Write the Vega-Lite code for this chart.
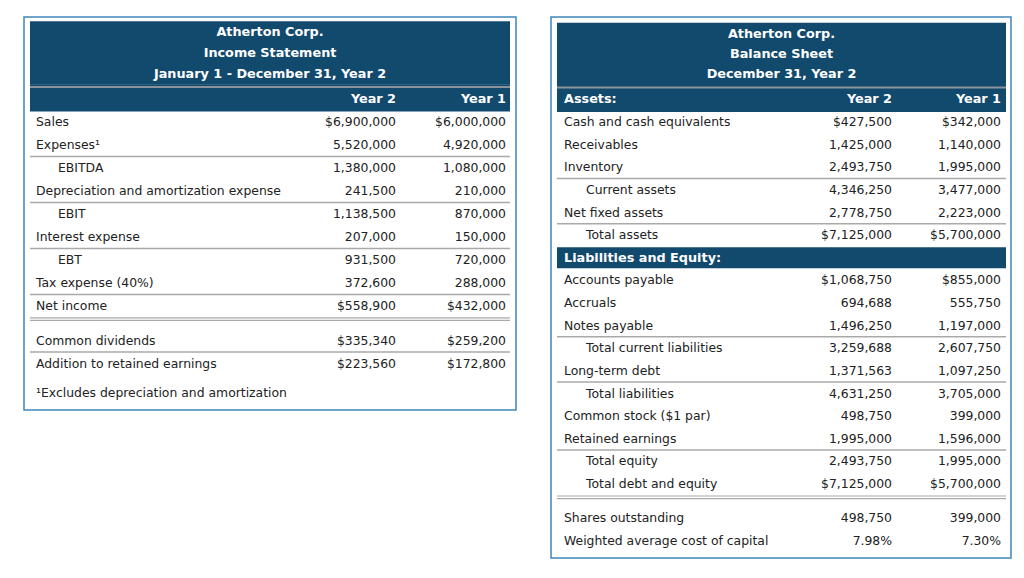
{
  "$schema": "https://vega.github.io/schema/vega-lite/v6.json",
  "padding": {"left": 15, "top": 16, "right": 0, "bottom": 0},
  "autosize": {"type": "pad"},
  "background": "white",
  "spacing": 35,
  "bounds": "flush",
  "config": {
    "view": {"stroke": "#3f86bb", "strokeWidth": 1.5},
    "text": {"font": "DejaVu Sans", "fontSize": 12.4, "baseline": "middle"},
    "rule": {"strokeCap": "butt"}
  },
  "datasets": {
    "is_title": [
      {"line": -3.9, "text": "Atherton Corp."},
      {"line": -3, "text": "Income Statement"},
      {"line": -2.1, "text": "January 1 - December 31, Year 2"}
    ],
    "is_rows": [
      {"line": -1, "role": "colhead", "label": "", "Year 2": "Year 2", "Year 1": "Year 1"},
      {"line": 0, "role": "item", "label": "Sales", "Year 2": "$6,900,000", "Year 1": "$6,000,000"},
      {"line": 1, "role": "item", "label": "Expenses¹", "Year 2": "5,520,000", "Year 1": "4,920,000"},
      {"line": 2, "role": "subtotal", "label": "EBITDA", "Year 2": "1,380,000", "Year 1": "1,080,000"},
      {"line": 3, "role": "item", "label": "Depreciation and amortization expense", "Year 2": "241,500", "Year 1": "210,000"},
      {"line": 4, "role": "subtotal", "label": "EBIT", "Year 2": "1,138,500", "Year 1": "870,000"},
      {"line": 5, "role": "item", "label": "Interest expense", "Year 2": "207,000", "Year 1": "150,000"},
      {"line": 6, "role": "subtotal", "label": "EBT", "Year 2": "931,500", "Year 1": "720,000"},
      {"line": 7, "role": "item", "label": "Tax expense (40%)", "Year 2": "372,600", "Year 1": "288,000"},
      {"line": 8, "role": "total", "label": "Net income", "Year 2": "$558,900", "Year 1": "$432,000"},
      {"line": 9.5, "role": "item", "label": "Common dividends", "Year 2": "$335,340", "Year 1": "$259,200"},
      {"line": 10.5, "role": "total", "label": "Addition to retained earnings", "Year 2": "$223,560", "Year 1": "$172,800"},
      {"line": 11.8, "role": "note", "label": "¹Excludes depreciation and amortization", "Year 2": "", "Year 1": ""}
    ],
    "bs_title": [
      {"line": -3.9, "text": "Atherton Corp."},
      {"line": -3, "text": "Balance Sheet"},
      {"line": -2.1, "text": "December 31, Year 2"}
    ],
    "bs_rows": [
      {"line": -1, "role": "colhead", "label": "Assets:", "Year 2": "Year 2", "Year 1": "Year 1"},
      {"line": 0, "role": "item", "label": "Cash and cash equivalents", "Year 2": "$427,500", "Year 1": "$342,000"},
      {"line": 1, "role": "item", "label": "Receivables", "Year 2": "1,425,000", "Year 1": "1,140,000"},
      {"line": 2, "role": "item", "label": "Inventory", "Year 2": "2,493,750", "Year 1": "1,995,000"},
      {"line": 3, "role": "subtotal", "label": "Current assets", "Year 2": "4,346,250", "Year 1": "3,477,000"},
      {"line": 4, "role": "item", "label": "Net fixed assets", "Year 2": "2,778,750", "Year 1": "2,223,000"},
      {"line": 5, "role": "subtotal", "label": "Total assets", "Year 2": "$7,125,000", "Year 1": "$5,700,000"},
      {"line": 6, "role": "section", "label": "Liabilities and Equity:", "Year 2": "", "Year 1": ""},
      {"line": 7, "role": "item", "label": "Accounts payable", "Year 2": "$1,068,750", "Year 1": "$855,000"},
      {"line": 8, "role": "item", "label": "Accruals", "Year 2": "694,688", "Year 1": "555,750"},
      {"line": 9, "role": "item", "label": "Notes payable", "Year 2": "1,496,250", "Year 1": "1,197,000"},
      {"line": 10, "role": "subtotal", "label": "Total current liabilities", "Year 2": "3,259,688", "Year 1": "2,607,750"},
      {"line": 11, "role": "item", "label": "Long-term debt", "Year 2": "1,371,563", "Year 1": "1,097,250"},
      {"line": 12, "role": "subtotal", "label": "Total liabilities", "Year 2": "4,631,250", "Year 1": "3,705,000"},
      {"line": 13, "role": "item", "label": "Common stock ($1 par)", "Year 2": "498,750", "Year 1": "399,000"},
      {"line": 14, "role": "item", "label": "Retained earnings", "Year 2": "1,995,000", "Year 1": "1,596,000"},
      {"line": 15, "role": "subtotal", "label": "Total equity", "Year 2": "2,493,750", "Year 1": "1,995,000"},
      {"line": 16, "role": "subtotal", "label": "Total debt and equity", "Year 2": "$7,125,000", "Year 1": "$5,700,000"},
      {"line": 17.5, "role": "item", "label": "Shares outstanding", "Year 2": "498,750", "Year 1": "399,000"},
      {"line": 18.5, "role": "item", "label": "Weighted average cost of capital", "Year 2": "7.98%", "Year 1": "7.30%"}
    ]
  },
  "hconcat": [
    {
      "width": 492,
      "height": 393,
      "resolve": {"scale": {"x": "independent"}},
      "layer": [
        {
          "data": {"name": "is_title"},
          "mark": {"type": "rule", "color": "#124a6e", "strokeWidth": 22},
          "encoding": {
            "x": {"datum": 0, "type": "quantitative", "scale": {"domain": [0, 1], "range": [6, 486], "nice": false, "zero": false}, "axis": null},
            "x2": {"datum": 1},
            "y": {"field": "line", "type": "quantitative", "scale": {"domain": [0, 8], "range": [105, 289], "nice": false, "zero": false}, "axis": null}
          }
        },
        {
          "data": {"name": "is_rows"},
          "transform": [{"filter": "datum.role === 'colhead'"}],
          "mark": {"type": "rule", "color": "#124a6e", "strokeWidth": 27, "yOffset": -1},
          "encoding": {
            "x": {"datum": 0, "type": "quantitative", "scale": {"domain": [0, 1], "range": [6, 486], "nice": false, "zero": false}, "axis": null},
            "x2": {"datum": 1},
            "y": {"field": "line", "type": "quantitative", "scale": {"domain": [0, 8], "range": [105, 289], "nice": false, "zero": false}, "axis": null}
          }
        },
        {
          "data": {"name": "is_rows"},
          "transform": [{"filter": "datum.role === 'colhead'"}],
          "mark": {"type": "rule", "color": "#8b949c", "strokeWidth": 2, "yOffset": -12},
          "encoding": {
            "x": {"datum": 0, "type": "quantitative", "scale": {"domain": [0, 1], "range": [6, 486], "nice": false, "zero": false}, "axis": null},
            "x2": {"datum": 1},
            "y": {"field": "line", "type": "quantitative", "scale": {"domain": [0, 8], "range": [105, 289], "nice": false, "zero": false}, "axis": null}
          }
        },
        {
          "data": {"name": "is_rows"},
          "transform": [{"filter": {"field": "label", "oneOf": ["EBITDA", "EBIT", "EBT", "Net income", "Addition to retained earnings"]}}],
          "mark": {"type": "rule", "color": "#a9a9a9", "strokeWidth": 1.5, "yOffset": -11.5},
          "encoding": {
            "x": {"datum": 0, "type": "quantitative", "scale": {"domain": [0, 1], "range": [6, 486], "nice": false, "zero": false}, "axis": null},
            "x2": {"datum": 1},
            "y": {"field": "line", "type": "quantitative", "scale": {"domain": [0, 8], "range": [105, 289], "nice": false, "zero": false}, "axis": null}
          }
        },
        {
          "data": {"name": "is_rows"},
          "transform": [{"filter": {"field": "label", "oneOf": ["Net income"]}}],
          "mark": {"type": "rule", "color": "#a9a9a9", "strokeWidth": 1.2, "yOffset": 11.8},
          "encoding": {
            "x": {"datum": 0, "type": "quantitative", "scale": {"domain": [0, 1], "range": [6, 486], "nice": false, "zero": false}, "axis": null},
            "x2": {"datum": 1},
            "y": {"field": "line", "type": "quantitative", "scale": {"domain": [0, 8], "range": [105, 289], "nice": false, "zero": false}, "axis": null}
          }
        },
        {
          "data": {"name": "is_rows"},
          "transform": [{"filter": {"field": "label", "oneOf": ["Net income"]}}],
          "mark": {"type": "rule", "color": "#a9a9a9", "strokeWidth": 1.2, "yOffset": 14.4},
          "encoding": {
            "x": {"datum": 0, "type": "quantitative", "scale": {"domain": [0, 1], "range": [6, 486], "nice": false, "zero": false}, "axis": null},
            "x2": {"datum": 1},
            "y": {"field": "line", "type": "quantitative", "scale": {"domain": [0, 8], "range": [105, 289], "nice": false, "zero": false}, "axis": null}
          }
        },
        {
          "data": {"name": "is_title"},
          "mark": {"type": "text", "color": "white", "fontWeight": "bold", "align": "center", "fontSize": 12.8},
          "encoding": {
            "x": {"datum": 0.5, "type": "quantitative", "scale": {"domain": [0, 1], "range": [6, 486], "nice": false, "zero": false}, "axis": null},
            "y": {"field": "line", "type": "quantitative", "scale": {"domain": [0, 8], "range": [105, 289], "nice": false, "zero": false}, "axis": null},
            "text": {"field": "text"}
          }
        },
        {
          "data": {"name": "is_rows"},
          "transform": [{"filter": "datum.role === 'item' || datum.role === 'total' || datum.role === 'note'"}],
          "mark": {"type": "text", "color": "#222222", "align": "left", "dx": 6},
          "encoding": {
            "x": {"datum": 0, "type": "quantitative", "scale": {"domain": [0, 1], "range": [6, 486], "nice": false, "zero": false}, "axis": null},
            "y": {"field": "line", "type": "quantitative", "scale": {"domain": [0, 8], "range": [105, 289], "nice": false, "zero": false}, "axis": null},
            "text": {"field": "label"}
          }
        },
        {
          "data": {"name": "is_rows"},
          "transform": [{"filter": "datum.role === 'subtotal'"}],
          "mark": {"type": "text", "color": "#222222", "align": "left", "dx": 28},
          "encoding": {
            "x": {"datum": 0, "type": "quantitative", "scale": {"domain": [0, 1], "range": [6, 486], "nice": false, "zero": false}, "axis": null},
            "y": {"field": "line", "type": "quantitative", "scale": {"domain": [0, 8], "range": [105, 289], "nice": false, "zero": false}, "axis": null},
            "text": {"field": "label"}
          }
        },
        {
          "data": {"name": "is_rows"},
          "transform": [
            {"filter": "datum.role !== 'colhead' && datum.role !== 'note' && datum.role !== 'section'"},
            {"fold": ["Year 2", "Year 1"], "as": ["period", "val"]}
          ],
          "mark": {"type": "text", "color": "#222222", "align": "right"},
          "encoding": {
            "x": {"field": "period", "type": "nominal", "bandPosition": 1, "scale": {"type": "band", "domain": ["Year 2", "Year 1"], "range": [262, 482], "paddingInner": 0, "paddingOuter": 0}, "axis": null},
            "y": {"field": "line", "type": "quantitative", "scale": {"domain": [0, 8], "range": [105, 289], "nice": false, "zero": false}, "axis": null},
            "text": {"field": "val"}
          }
        },
        {
          "data": {"name": "is_rows"},
          "transform": [
            {"filter": "datum.role === 'colhead'"},
            {"fold": ["Year 2", "Year 1"], "as": ["period", "val"]}
          ],
          "mark": {"type": "text", "color": "white", "fontWeight": "bold", "align": "right", "fontSize": 12.8},
          "encoding": {
            "x": {"field": "period", "type": "nominal", "bandPosition": 1, "scale": {"type": "band", "domain": ["Year 2", "Year 1"], "range": [262, 482], "paddingInner": 0, "paddingOuter": 0}, "axis": null},
            "y": {"field": "line", "type": "quantitative", "scale": {"domain": [0, 8], "range": [105, 289], "nice": false, "zero": false}, "axis": null},
            "text": {"field": "val"}
          }
        }
      ]
    },
    {
      "width": 460,
      "height": 541,
      "resolve": {"scale": {"x": "independent"}},
      "layer": [
        {
          "data": {"name": "bs_title"},
          "mark": {"type": "rule", "color": "#124a6e", "strokeWidth": 22},
          "encoding": {
            "x": {"datum": 0, "type": "quantitative", "scale": {"domain": [0, 1], "range": [6, 455], "nice": false, "zero": false}, "axis": null},
            "x2": {"datum": 1},
            "y": {"field": "line", "type": "quantitative", "scale": {"domain": [0, 16], "range": [105, 467], "nice": false, "zero": false}, "axis": null}
          }
        },
        {
          "data": {"name": "bs_rows"},
          "transform": [{"filter": "datum.role === 'colhead'"}],
          "mark": {"type": "rule", "color": "#124a6e", "strokeWidth": 27, "yOffset": -1},
          "encoding": {
            "x": {"datum": 0, "type": "quantitative", "scale": {"domain": [0, 1], "range": [6, 455], "nice": false, "zero": false}, "axis": null},
            "x2": {"datum": 1},
            "y": {"field": "line", "type": "quantitative", "scale": {"domain": [0, 16], "range": [105, 467], "nice": false, "zero": false}, "axis": null}
          }
        },
        {
          "data": {"name": "bs_rows"},
          "transform": [{"filter": "datum.role === 'section'"}],
          "mark": {"type": "rule", "color": "#124a6e", "strokeWidth": 21},
          "encoding": {
            "x": {"datum": 0, "type": "quantitative", "scale": {"domain": [0, 1], "range": [6, 455], "nice": false, "zero": false}, "axis": null},
            "x2": {"datum": 1},
            "y": {"field": "line", "type": "quantitative", "scale": {"domain": [0, 16], "range": [105, 467], "nice": false, "zero": false}, "axis": null}
          }
        },
        {
          "data": {"name": "bs_rows"},
          "transform": [{"filter": "datum.role === 'colhead'"}],
          "mark": {"type": "rule", "color": "#8b949c", "strokeWidth": 2, "yOffset": -12},
          "encoding": {
            "x": {"datum": 0, "type": "quantitative", "scale": {"domain": [0, 1], "range": [6, 455], "nice": false, "zero": false}, "axis": null},
            "x2": {"datum": 1},
            "y": {"field": "line", "type": "quantitative", "scale": {"domain": [0, 16], "range": [105, 467], "nice": false, "zero": false}, "axis": null}
          }
        },
        {
          "data": {"name": "bs_rows"},
          "transform": [{"filter": {"field": "label", "oneOf": ["Current assets", "Total assets", "Total current liabilities", "Total liabilities", "Total equity"]}}],
          "mark": {"type": "rule", "color": "#a9a9a9", "strokeWidth": 1.5, "yOffset": -11.5},
          "encoding": {
            "x": {"datum": 0, "type": "quantitative", "scale": {"domain": [0, 1], "range": [6, 455], "nice": false, "zero": false}, "axis": null},
            "x2": {"datum": 1},
            "y": {"field": "line", "type": "quantitative", "scale": {"domain": [0, 16], "range": [105, 467], "nice": false, "zero": false}, "axis": null}
          }
        },
        {
          "data": {"name": "bs_rows"},
          "transform": [{"filter": {"field": "label", "oneOf": ["Total debt and equity"]}}],
          "mark": {"type": "rule", "color": "#a9a9a9", "strokeWidth": 1.2, "yOffset": 12},
          "encoding": {
            "x": {"datum": 0, "type": "quantitative", "scale": {"domain": [0, 1], "range": [6, 455], "nice": false, "zero": false}, "axis": null},
            "x2": {"datum": 1},
            "y": {"field": "line", "type": "quantitative", "scale": {"domain": [0, 16], "range": [105, 467], "nice": false, "zero": false}, "axis": null}
          }
        },
        {
          "data": {"name": "bs_rows"},
          "transform": [{"filter": {"field": "label", "oneOf": ["Total debt and equity"]}}],
          "mark": {"type": "rule", "color": "#a9a9a9", "strokeWidth": 1.2, "yOffset": 14.6},
          "encoding": {
            "x": {"datum": 0, "type": "quantitative", "scale": {"domain": [0, 1], "range": [6, 455], "nice": false, "zero": false}, "axis": null},
            "x2": {"datum": 1},
            "y": {"field": "line", "type": "quantitative", "scale": {"domain": [0, 16], "range": [105, 467], "nice": false, "zero": false}, "axis": null}
          }
        },
        {
          "data": {"name": "bs_title"},
          "mark": {"type": "text", "color": "white", "fontWeight": "bold", "align": "center", "fontSize": 12.8},
          "encoding": {
            "x": {"datum": 0.5, "type": "quantitative", "scale": {"domain": [0, 1], "range": [6, 455], "nice": false, "zero": false}, "axis": null},
            "y": {"field": "line", "type": "quantitative", "scale": {"domain": [0, 16], "range": [105, 467], "nice": false, "zero": false}, "axis": null},
            "text": {"field": "text"}
          }
        },
        {
          "data": {"name": "bs_rows"},
          "transform": [{"filter": "datum.role === 'colhead' || datum.role === 'section'"}],
          "mark": {"type": "text", "color": "white", "fontWeight": "bold", "align": "left", "dx": 7, "fontSize": 12.8},
          "encoding": {
            "x": {"datum": 0, "type": "quantitative", "scale": {"domain": [0, 1], "range": [6, 455], "nice": false, "zero": false}, "axis": null},
            "y": {"field": "line", "type": "quantitative", "scale": {"domain": [0, 16], "range": [105, 467], "nice": false, "zero": false}, "axis": null},
            "text": {"field": "label"}
          }
        },
        {
          "data": {"name": "bs_rows"},
          "transform": [{"filter": "datum.role === 'item'"}],
          "mark": {"type": "text", "color": "#222222", "align": "left", "dx": 7},
          "encoding": {
            "x": {"datum": 0, "type": "quantitative", "scale": {"domain": [0, 1], "range": [6, 455], "nice": false, "zero": false}, "axis": null},
            "y": {"field": "line", "type": "quantitative", "scale": {"domain": [0, 16], "range": [105, 467], "nice": false, "zero": false}, "axis": null},
            "text": {"field": "label"}
          }
        },
        {
          "data": {"name": "bs_rows"},
          "transform": [{"filter": "datum.role === 'subtotal'"}],
          "mark": {"type": "text", "color": "#222222", "align": "left", "dx": 29},
          "encoding": {
            "x": {"datum": 0, "type": "quantitative", "scale": {"domain": [0, 1], "range": [6, 455], "nice": false, "zero": false}, "axis": null},
            "y": {"field": "line", "type": "quantitative", "scale": {"domain": [0, 16], "range": [105, 467], "nice": false, "zero": false}, "axis": null},
            "text": {"field": "label"}
          }
        },
        {
          "data": {"name": "bs_rows"},
          "transform": [
            {"filter": "datum.role !== 'colhead' && datum.role !== 'section'"},
            {"fold": ["Year 2", "Year 1"], "as": ["period", "val"]}
          ],
          "mark": {"type": "text", "color": "#222222", "align": "right"},
          "encoding": {
            "x": {"field": "period", "type": "nominal", "bandPosition": 1, "scale": {"type": "band", "domain": ["Year 2", "Year 1"], "range": [232, 450], "paddingInner": 0, "paddingOuter": 0}, "axis": null},
            "y": {"field": "line", "type": "quantitative", "scale": {"domain": [0, 16], "range": [105, 467], "nice": false, "zero": false}, "axis": null},
            "text": {"field": "val"}
          }
        },
        {
          "data": {"name": "bs_rows"},
          "transform": [
            {"filter": "datum.role === 'colhead'"},
            {"fold": ["Year 2", "Year 1"], "as": ["period", "val"]}
          ],
          "mark": {"type": "text", "color": "white", "fontWeight": "bold", "align": "right", "fontSize": 12.8},
          "encoding": {
            "x": {"field": "period", "type": "nominal", "bandPosition": 1, "scale": {"type": "band", "domain": ["Year 2", "Year 1"], "range": [232, 450], "paddingInner": 0, "paddingOuter": 0}, "axis": null},
            "y": {"field": "line", "type": "quantitative", "scale": {"domain": [0, 16], "range": [105, 467], "nice": false, "zero": false}, "axis": null},
            "text": {"field": "val"}
          }
        }
      ]
    }
  ]
}
